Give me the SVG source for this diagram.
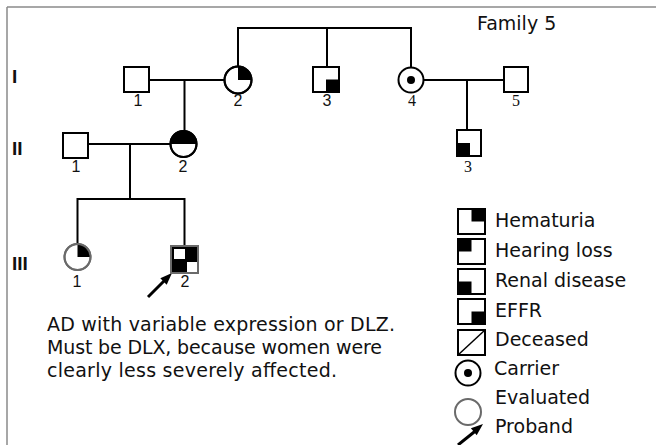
<svg xmlns="http://www.w3.org/2000/svg" width="656" height="445" viewBox="0 0 656 445">
<style>
.ln{stroke:#000;stroke-width:2;fill:none}
.sym{stroke:#000;stroke-width:2;fill:#fff}
.gry{stroke:#6a6a6a;stroke-width:2;fill:#fff}
.blk{fill:#000;stroke:none}
.t{font-family:"DejaVu Sans",Verdana,sans-serif;font-size:19px;fill:#111}
.n{font-family:"Liberation Sans",Arial,sans-serif;font-size:16px;fill:#111;text-anchor:middle}
.ns{font-family:"Liberation Serif","Times New Roman",serif;font-size:16px;fill:#111;text-anchor:middle}
.gen{font-family:"Liberation Sans",Arial,sans-serif;font-size:19px;font-weight:bold;fill:#111}
</style>
<rect x="0" y="0" width="656" height="445" fill="#fff"/>
<g id="frame">
<line x1="7" y1="7" x2="656" y2="7" stroke="#8a8a8a" stroke-width="1.5"/>
<line x1="7" y1="7" x2="7" y2="445" stroke="#8a8a8a" stroke-width="1.5"/>
</g>
<text class="t" x="477" y="30">Family 5</text>
<g id="generations">
<text class="gen" x="12" y="83">I</text>
<text class="gen" x="12" y="155">II</text>
<text class="gen" x="12" y="270">III</text>
</g>
<g id="connectors">
<path class="ln" d="M238,28 H411 M238,27 V66.5 M327,28 V67 M411,27 V67.5"/>
<path class="ln" d="M149,80 H224.5 M184.5,80 V131"/>
<path class="ln" d="M423.5,80 H504 M467,80 V130"/>
<path class="ln" d="M88,144 H170.5 M130,144 V199"/>
<path class="ln" d="M76.5,199 H185.5 M77.5,199 V244 M184.5,199 V246"/>
<line x1="148" y1="297" x2="165" y2="280" stroke="#000" stroke-width="3"/>
<polygon points="172,273 166.7,284.7 160.3,278.3" fill="#000"/>
</g>
<g id="I-1">
<rect class="sym" x="124" y="67" width="25" height="25"/>
<text class="n" x="138" y="106">1</text>
</g>
<g id="I-2">
<circle class="sym" cx="238" cy="80" r="13.5"/>
<path class="blk" d="M238,80 V66.5 A13.5,13.5 0 0 1 251.5,80 Z"/>
<circle cx="238" cy="80" r="13.5" fill="none" stroke="#000" stroke-width="2"/>
<text class="n" x="238" y="106">2</text>
</g>
<g id="I-3">
<rect class="sym" x="313" y="67" width="26" height="25"/>
<rect class="blk" x="326" y="79.5" width="13" height="12.5"/>
<rect x="313" y="67" width="26" height="25" fill="none" stroke="#000" stroke-width="2"/>
<text class="n" x="327" y="106">3</text>
</g>
<g id="I-4">
<circle class="sym" cx="411" cy="80" r="12.5"/>
<circle class="blk" cx="411" cy="80" r="4"/>
<text class="ns" x="412" y="106">4</text>
</g>
<g id="I-5">
<rect class="sym" x="504" y="67" width="24" height="25"/>
<text class="ns" x="516" y="106">5</text>
</g>
<g id="II-1">
<rect class="sym" x="63" y="133" width="25" height="25"/>
<text class="n" x="76" y="172">1</text>
</g>
<g id="II-2">
<circle class="sym" cx="183.5" cy="144" r="13"/>
<path class="blk" d="M170.5,144 A13,13 0 0 1 196.5,144 Z"/>
<circle cx="183.5" cy="144" r="13" fill="none" stroke="#000" stroke-width="2"/>
<text class="n" x="183" y="172">2</text>
</g>
<g id="II-3">
<rect class="sym" x="457" y="130" width="24" height="26"/>
<rect class="blk" x="457" y="143" width="13" height="13"/>
<rect x="457" y="130" width="24" height="26" fill="none" stroke="#000" stroke-width="2"/>
<text class="ns" x="468" y="172">3</text>
</g>
<g id="III-1">
<circle class="gry" cx="77.5" cy="257" r="13"/>
<path class="blk" d="M77.5,257 V244 A13,13 0 0 1 90.5,257 Z"/>
<circle cx="77.5" cy="257" r="13" fill="none" stroke="#6a6a6a" stroke-width="2"/>
<text class="n" x="77" y="287">1</text>
</g>
<g id="III-2">
<rect x="171" y="246" width="27" height="27" fill="#000"/>
<rect x="174" y="249" width="11" height="10" fill="#fff"/>
<rect x="187" y="262" width="10" height="10" fill="#fff"/>
<rect x="171" y="246" width="27" height="27" fill="none" stroke="#6a6a6a" stroke-width="2"/>
<text class="n" x="185" y="287">2</text>
</g>
<g id="note">
<text class="t" x="47" y="331" textLength="348" lengthAdjust="spacing">AD with variable expression or DLZ.</text>
<text class="t" x="47" y="354" textLength="335" lengthAdjust="spacing">Must be DLX, because women were</text>
<text class="t" x="47" y="377" textLength="290" lengthAdjust="spacing">clearly less severely affected.</text>
</g>
<g id="legend">
<rect class="sym" x="458" y="209" width="27" height="25"/>
<rect class="blk" x="471.5" y="209" width="13.5" height="12.5"/>
<rect x="458" y="209" width="27" height="25" fill="none" stroke="#000" stroke-width="2"/>
<text class="t" x="495" y="227">Hematuria</text>
<rect class="sym" x="458" y="239" width="27" height="25"/>
<rect class="blk" x="458" y="239" width="13.5" height="12.5"/>
<rect x="458" y="239" width="27" height="25" fill="none" stroke="#000" stroke-width="2"/>
<text class="t" x="495" y="257">Hearing loss</text>
<rect class="sym" x="458" y="269" width="27" height="25"/>
<rect class="blk" x="458" y="281.5" width="13.5" height="12.5"/>
<rect x="458" y="269" width="27" height="25" fill="none" stroke="#000" stroke-width="2"/>
<text class="t" x="495" y="287">Renal disease</text>
<rect class="sym" x="458" y="299" width="27" height="25"/>
<rect class="blk" x="471.5" y="311.5" width="13.5" height="12.5"/>
<rect x="458" y="299" width="27" height="25" fill="none" stroke="#000" stroke-width="2"/>
<text class="t" x="495" y="317">EFFR</text>
<rect class="sym" x="458" y="330" width="27" height="25"/>
<line x1="458" y1="355" x2="485" y2="330" stroke="#000" stroke-width="1.5"/>
<text class="t" x="495" y="346">Deceased</text>
<circle class="sym" cx="468" cy="373" r="12.5"/>
<circle class="blk" cx="468" cy="373" r="4"/>
<text class="t" x="494" y="375">Carrier</text>
<circle class="gry" cx="468" cy="412" r="13"/>
<text class="t" x="495" y="404">Evaluated</text>
<line x1="458" y1="445" x2="476" y2="430.5" stroke="#000" stroke-width="3"/>
<polygon points="483,424 476.7,435.2 470.9,428.3" fill="#000"/>
<text class="t" x="495" y="433">Proband</text>
</g>
</svg>
